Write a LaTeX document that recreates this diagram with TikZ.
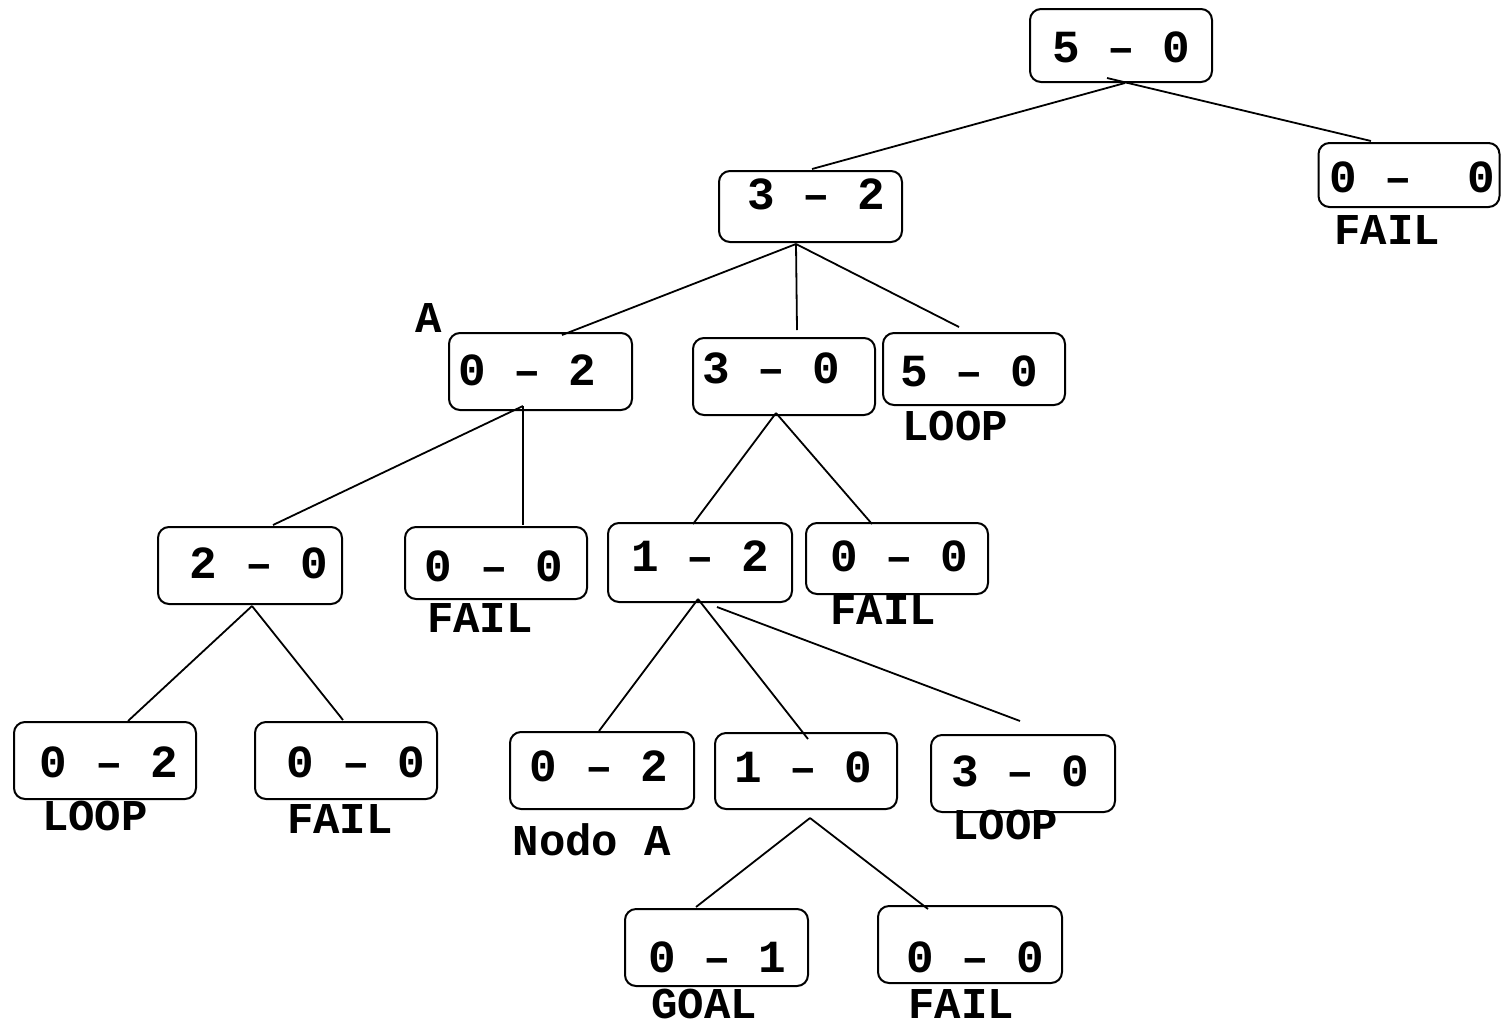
\documentclass[tikz,border=0pt]{standalone}
\usepackage{fontspec}
\setmainfont{Liberation Mono}
\usetikzlibrary{calc}
\newcommand{\boxf}{\fontsize{46pt}{50pt}\selectfont\bfseries}
\newcommand{\lblf}{\fontsize{44pt}{50pt}\selectfont\bfseries}
\newcommand{\bt}[3]{\raisebox{\dimexpr#2-0.5\fontcharht\font`0\relax}[0pt][0pt]{\makebox[0pt]{\hspace*{#1}\hspace*{#1}#3}}}
\tikzset{
  sbox/.style={draw, rounded corners=11pt, line width=2pt, inner sep=0pt, font=\boxf},
  lbl/.style={inner sep=0pt, font=\lblf},
  conn/.style={line width=1.8pt}
}
\begin{document}
\begin{tikzpicture}[x=1pt,y=-1pt]
\useasboundingbox (0,0) rectangle (1501,1026);
% boxes
\node[sbox, minimum width=182pt, minimum height=73pt] (r) at (1121,45.5) {\bt{0pt}{-1.5pt}{5~–~0}};
\node[sbox, minimum width=181pt, minimum height=64pt] (rr) at (1409,175) {\bt{3pt}{-2.5pt}{0~–~~0}};
\node[sbox, minimum width=183pt, minimum height=71pt] (n32) at (810.5,206.5) {\bt{6pt}{12.5pt}{3~–~2}};
\node[sbox, minimum width=183pt, minimum height=77pt] (n02a) at (540.5,371.5) {\bt{-13pt}{1pt}{0~–~2}};
\node[sbox, minimum width=182pt, minimum height=77pt] (n30a) at (784,376.5) {\bt{-12.5pt}{8.5pt}{3~–~0}};
\node[sbox, minimum width=182pt, minimum height=72pt] (n50) at (974,369) {\bt{-5pt}{-2pt}{5~–~0}};
\node[sbox, minimum width=184pt, minimum height=77pt] (n20) at (250,565.5) {\bt{9pt}{2.5pt}{2~–~0}};
\node[sbox, minimum width=182pt, minimum height=72pt] (n00a) at (496,563) {\bt{-2pt}{-3pt}{0~–~0}};
\node[sbox, minimum width=184pt, minimum height=79pt] (n12) at (700,562.5) {\bt{0.5pt}{6.5pt}{1~–~2}};
\node[sbox, minimum width=182pt, minimum height=71pt] (n00b) at (897,558.5) {\bt{2.5pt}{2.5pt}{0~–~0}};
\node[sbox, minimum width=182pt, minimum height=77pt] (n02b) at (105,760.5) {\bt{4pt}{-1.5pt}{0~–~2}};
\node[sbox, minimum width=182pt, minimum height=77pt] (n00c) at (346,760.5) {\bt{10pt}{-2pt}{0~–~0}};
\node[sbox, minimum width=184pt, minimum height=77pt] (n02c) at (602,770.5) {\bt{-3pt}{4.5pt}{0~–~2}};
\node[sbox, minimum width=182pt, minimum height=76pt] (n10) at (806,771) {\bt{-2.5pt}{3.5pt}{1~–~0}};
\node[sbox, minimum width=184pt, minimum height=77pt] (n30b) at (1023,773.5) {\bt{-2.5pt}{2.5pt}{3~–~0}};
\node[sbox, minimum width=183pt, minimum height=77pt] (n01) at (716.5,947.5) {\bt{1pt}{-10pt}{0~–~1}};
\node[sbox, minimum width=184pt, minimum height=77pt] (n00d) at (970,944.5) {\bt{5.5pt}{-12.5pt}{0~–~0}};
% labels
\node[lbl] (lA) at (429,318) {A};
\node[lbl] (lrr) at (1387,230) {FAIL};
\node[lbl] (l50) at (955,426) {LOOP};
\node[lbl] (l00a) at (480,618) {FAIL};
\node[lbl] (l00b) at (883,610) {FAIL};
\node[lbl] (l02b) at (95,816) {LOOP};
\node[lbl] (l00c) at (340,819) {FAIL};
\node[lbl] (l02c) at (592,840) {Nodo~A};
\node[lbl] (l30b) at (1005,825) {LOOP};
\node[lbl] (l01) at (704,1004) {GOAL};
\node[lbl] (l00d) at (961,1004) {FAIL};
% connectors
\draw[conn] ($(r.south)+(4,0)$) -- ($(n32.north)+(1.5,-1)$);
\draw[conn] ($(r.south)+(-14,-5)$) -- ($(rr.north)+(-38,-1)$);
\draw[conn] ($(n32.south)+(-14.5,1)$) -- ($(n02a.north)+(21.5,3)$);
\draw[conn] ($(n32.south)+(-14.5,1)$) -- ($(n30a.north)+(13,-7)$);
\draw[conn] ($(n32.south)+(-14.5,1)$) -- ($(n50.north)+(-15,-5)$);
\draw[conn] ($(n02a.south)+(-17.5,-5)$) -- ($(n20.north)+(23,-1)$);
\draw[conn] ($(n02a.south)+(-17.5,-5)$) -- ($(n00a.north)+(27,-1)$);
\draw[conn] ($(n30a.south)+(-8,-3)$) -- ($(n12.north)+(-7,2)$);
\draw[conn] ($(n30a.south)+(-8,-3)$) -- ($(n00b.north)+(-25,2)$);
\draw[conn] ($(n20.south)+(2,1)$) -- ($(n02b.north)+(23,0)$);
\draw[conn] ($(n20.south)+(2,1)$) -- ($(n00c.north)+(-3,-1)$);
\draw[conn] ($(n12.south)+(-2,-4)$) -- ($(n02c.north)+(-3,0)$);
\draw[conn] ($(n12.south)+(-2,-4)$) -- ($(n10.north)+(2,7)$);
\draw[conn] ($(n12.south)+(17,4)$) -- ($(n30b.north)+(-3,-13)$);
\draw[conn] ($(n10.south)+(4,8)$) -- ($(n01.north)+(-20.5,-1)$);
\draw[conn] ($(n10.south)+(4,8)$) -- ($(n00d.north)+(-42,4)$);
\end{tikzpicture}
\end{document}
